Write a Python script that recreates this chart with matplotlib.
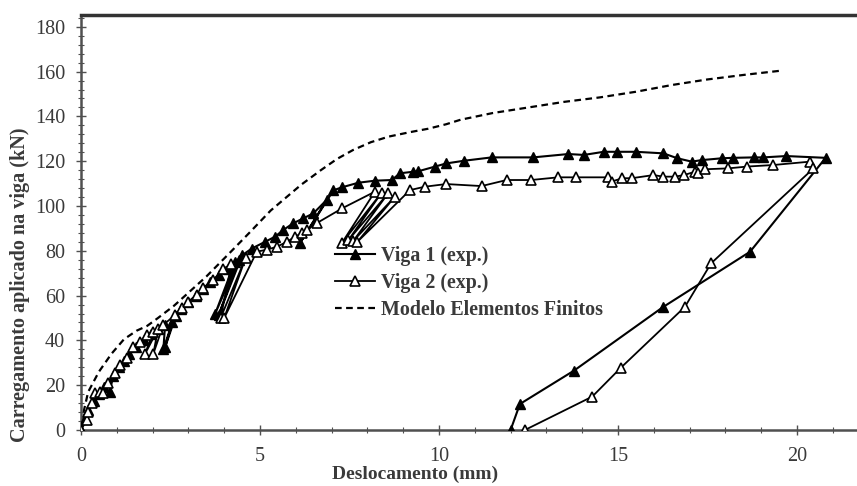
import matplotlib
matplotlib.use("Agg")
import matplotlib.pyplot as plt
from matplotlib.ticker import MultipleLocator

# ---- data ----
v1_x = [0, 0.1, 0.2, 0.35, 0.5, 0.65, 0.8, 0.9, 1.05, 1.2, 1.35, 1.55, 1.75, 1.95, 2.15, 2.35,
        2.3, 2.55, 2.35, 2.65, 2.8, 3.0, 3.2, 3.4, 3.6, 3.85, 4.1, 4.3, 3.75, 4.4, 3.85, 4.5,
        4.77, 5.14, 5.42, 5.65, 5.93, 6.21, 6.49, 6.86, 6.12, 7.05, 7.28, 7.75, 8.21, 8.68,
        8.91, 9.28, 9.42, 9.89, 10.2, 10.7, 11.47, 12.63, 13.61, 14.05, 14.6, 14.96, 15.5,
        16.27, 16.66, 17.06, 17.34, 17.9, 18.2, 18.8, 19.06, 19.7, 20.8,
        18.69, 16.25, 13.77, 12.26, 12.0]
v1_y = [0, 5, 9, 13, 16, 19, 17, 24, 28, 31, 34, 37, 40, 43, 45, 47,
        36, 48, 37, 51, 54, 57, 60, 63, 66, 69, 72, 75, 52, 76, 51.5, 78,
        81, 84, 86.3, 89.3, 92.3, 94.5, 96.7, 102.7, 83.5, 107, 108.3, 110.4, 111.3, 111.6,
        114.6, 115.3, 115.5, 117.6, 119, 120.2, 121.7, 121.7, 123.2, 122.8, 124.2, 124.2, 124.2,
        123.5, 121.3, 119.8, 120.5, 121.3, 121.5, 121.7, 121.7, 122.3, 121.5,
        79.6, 54.8, 26.5, 11.6, 0]

v2_x = [0, 0.16, 0.2, 0.3, 0.39, 0.53, 0.62, 0.76, 0.95, 1.09, 1.28, 1.46, 1.65, 1.84, 2.02,
        1.79, 2.15, 2.02, 2.3, 2.63, 2.81, 3.0, 3.23, 3.42, 3.7, 3.97, 4.2, 3.9, 4.6, 4.0,
        4.91, 5.19, 5.47, 5.75, 5.98, 6.16, 6.3, 6.58, 7.3, 8.21, 7.28, 8.4, 7.47, 8.58, 7.61,
        8.77, 7.72, 9.19, 9.6, 10.2, 11.19, 11.89, 12.57, 13.33, 13.83, 14.73, 14.82, 15.12,
        15.38, 15.99, 16.27, 16.59, 16.84, 17.15, 17.24, 17.43, 18.08, 18.6, 19.34, 20.36,
        20.46, 17.6, 16.87, 15.08, 14.28, 12.4]
v2_y = [0, 4.5, 8.2, 11.9, 16.4, 17.1, 16.4, 20.8, 25.3, 29, 32, 36.9, 39.4, 42.4, 43.9,
        34, 45, 34, 47, 51.3, 54.3, 57.3, 60.3, 63.3, 67, 72, 74, 50, 77, 50,
        79.6, 80.5, 81.8, 84, 86.3, 87.8, 89.3, 92.3, 99, 106.4, 83.3, 106, 84.8, 105.7, 84.5,
        104.2, 84, 107.1, 108.6, 109.8, 108.9, 111.6, 111.6, 112.8, 112.8, 112.8, 110.9, 112.4,
        112.4, 113.8, 113.1, 113.1, 113.8, 115.3, 114.6, 116.4, 116.8, 117.6, 118.3, 119.8,
        116.8, 74.4, 55, 27.8, 14.9, 0]

fem_x = [0, 0.1, 0.2, 0.5, 0.85, 1.2, 1.55, 1.85, 2.15, 2.6, 3.05, 3.5, 4.15, 4.7, 5.3, 6.15,
         6.7, 7.15, 7.6, 8.1, 8.6, 9.2, 9.7, 10.2, 10.6, 11.5, 12.5, 13.5, 14.5, 15.5, 16.5,
         17.5, 18.5, 19.6]
fem_y = [3, 10, 17, 26, 34, 40.5, 44.3, 46.5, 50, 55.5, 62, 68.5, 79, 88, 98, 109.5,
         116, 121, 125, 128.5, 131, 133, 134.5, 136.5, 138.5, 141.5, 144, 146.5, 148.5, 151, 154,
         156.5, 158.5, 160.5]

labels = ["Viga 1 (exp.)", "Viga 2 (exp.)", "Modelo Elementos Finitos"]
xlabel = "Deslocamento (mm)"
ylabel = "Carregamento aplicado na viga (kN)"

# ---- style ----
plt.rcParams['font.family'] = ['Liberation Serif', 'DejaVu Serif']
txt = '#3a3a3a'
spine_c = '#505050'

fig = plt.figure(figsize=(8.57, 4.86), dpi=100)
ax = fig.add_axes([81/857, 1 - 430/486, 1 - 81/857, (430 - 15)/486])

ax.plot(v1_x, v1_y, color='black', lw=1.5, marker='^', ms=7,
        mfc='black', mec='black', zorder=3, label=labels[0])
ax.plot(v2_x, v2_y, color='black', lw=1.3, marker='^', ms=7,
        mfc='white', mec='black', mew=1.2, zorder=4, label=labels[1])
ax.plot(fem_x, fem_y, color='black', lw=1.6, ls=(0, (3, 2)), zorder=2, label=labels[2])

ax.set_xlim(0, 776/35.8)
ax.set_ylim(0, 415/2.24)

ax.xaxis.set_major_locator(MultipleLocator(5))
ax.xaxis.set_minor_locator(MultipleLocator(1))
ax.yaxis.set_major_locator(MultipleLocator(20))
ax.yaxis.set_minor_locator(MultipleLocator(4))
ax.set_yticks(range(0, 181, 20))

ax.tick_params(which='major', direction='inout', length=7, width=1, color=spine_c,
               labelsize=14.5, labelcolor=txt)
ax.tick_params(which='minor', direction='inout', length=4, width=0.8, color=spine_c)
ax.tick_params(axis='x', which='major', pad=9)
ax.tick_params(axis='y', which='major', pad=8)

for s in ['left', 'bottom']:
    ax.spines[s].set_color(spine_c)
    ax.spines[s].set_linewidth(1.8)
ax.spines['top'].set_color('#333333')
ax.spines['top'].set_linewidth(2.5)
ax.spines['right'].set_visible(False)

ax.set_xlabel(xlabel, fontsize=14, fontweight='bold', color=txt, labelpad=0)
ax.xaxis.set_label_coords(0.43, -0.087)
ax.set_ylabel(ylabel, fontsize=14.5, fontweight='bold', color=txt)
ax.yaxis.set_label_coords(-0.066, 0.35)

leg = ax.legend(loc='upper left', bbox_to_anchor=(0.327, 0.443), frameon=False,
                prop={'size': 14.4, 'weight': 'bold'}, handlelength=2.0,
                handletextpad=0.3, labelspacing=0.34, borderaxespad=0, borderpad=0)
for t in leg.get_texts():
    t.set_color(txt)

fig.savefig('out.png', dpi=100)
